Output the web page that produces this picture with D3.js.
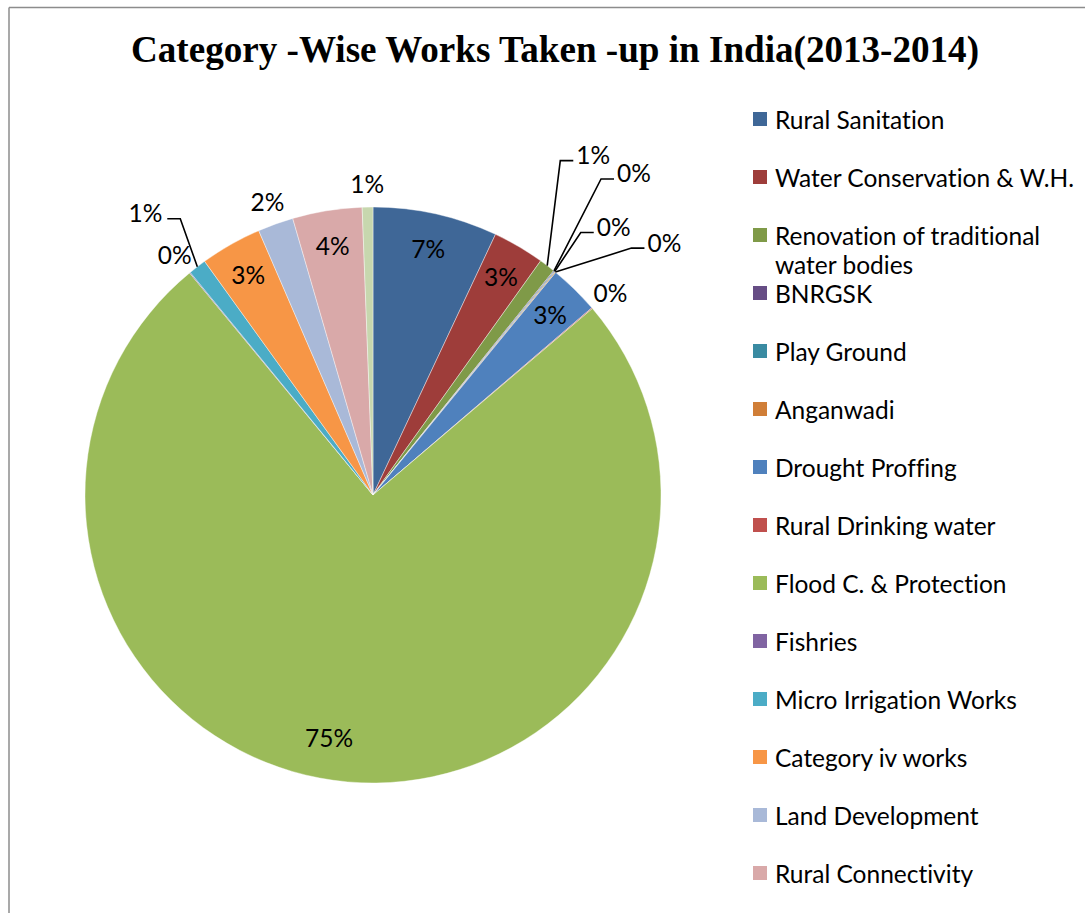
<!DOCTYPE html>
<html>
<head>
<meta charset="utf-8">
<script src="https://cdn.jsdelivr.net/npm/d3@7"></script>
<style>
  html, body { margin: 0; padding: 0; background: #fff; }
  svg { display: block; }
  text { font-variant-ligatures: none; font-feature-settings: "liga" 0, "clig" 0; }
</style>
</head>
<body>
<svg id="chart" width="1085" height="913"></svg>
<script>
// Category-wise works taken up, 2013-2014 (share of total, %)
const categories = [
  "Rural Sanitation",
  "Water Conservation & W.H.",
  "Renovation of traditional water bodies",
  "BNRGSK",
  "Play Ground",
  "Anganwadi",
  "Drought Proffing",
  "Rural Drinking water",
  "Flood C. & Protection",
  "Fishries",
  "Micro Irrigation Works",
  "Category iv works",
  "Land Development",
  "Rural Connectivity",
  "Other Works"
];
const shares = [7.0, 2.9, 0.9, 0.05, 0.05, 0.05, 2.8, 0.05, 75.3, 0.05, 1.0, 3.45, 2.0, 3.9, 0.6];
const sliceColors = [
  "#3F6797", "#9E3D3A", "#7F9A48", "#664D85", "#3A8BA2", "#D07E37",
  "#4F81BD", "#C0504D", "#9BBB59", "#8064A2", "#4BACC6", "#F79646",
  "#A9B9D8", "#D9A9A9", "#C7D7AE"
];
// how each percentage label sits: inside, outside, or outside with a leader line
const labelMode = ["in", "in", "lead", "lead", "lead", "lead", "in", "out", "in",
                   "out", "lead", "in", "out", "in", "out"];
// text offset from the slice's outer edge for leader-line labels
const leaderOffset = {2: [46, -111], 3: [80, -98], 4: [59, -45], 5: [109, -30], 10: [-52, -54]};
const titleText = "Category -Wise Works Taken -up in India(2013-2014)";

const svg = d3.select("#chart");
const W = 1085, H = 913;
const cx = 373, cy = 495, R = 288;
const labelFont = "Lato, 'Noto Sans', sans-serif";
const labelSize = 24.5;

// frame
svg.append("line").attr("x1", 9).attr("y1", 7.5).attr("x2", W).attr("y2", 7.5)
  .attr("stroke", "#8c8c8c").attr("stroke-width", 1.5);
svg.append("line").attr("x1", 9).attr("y1", 7.5).attr("x2", 9).attr("y2", H)
  .attr("stroke", "#8c8c8c").attr("stroke-width", 1.5);

// title
svg.append("text")
  .attr("x", 131).attr("y", 62)
  .attr("textLength", 848).attr("lengthAdjust", "spacingAndGlyphs")
  .style("font-family", "'Liberation Serif', 'Times New Roman', serif")
  .style("font-weight", "bold").style("font-size", "37px")
  .text(titleText);

const data = categories.map((c, i) => ({ name: c, value: shares[i], color: sliceColors[i], mode: labelMode[i], idx: i }));
const total = d3.sum(shares);

const pie = d3.pie().sort(null).value(d => d.value);
const arcs = pie(data);
const arc = d3.arc().innerRadius(0).outerRadius(R);

const g = svg.append("g").attr("transform", `translate(${cx},${cy})`);

g.selectAll("path.slice").data(arcs).join("path")
  .attr("class", "slice")
  .attr("d", arc)
  .attr("fill", d => d.data.color)
  .attr("stroke", "#ffffff").attr("stroke-width", 0.4);

const pct = d => Math.round(d.data.value / total * 100) + "%";
const mid = d => (d.startAngle + d.endAngle) / 2;
const polar = (r, a) => [r * Math.sin(a), -r * Math.cos(a)];

// labels inside slices
const inArc = d3.arc().innerRadius(253).outerRadius(253);
g.selectAll("text.in").data(arcs.filter(d => d.data.mode === "in")).join("text")
  .attr("class", "in")
  .attr("transform", d => {
    let [x, y] = inArc.centroid(d);
    if (d.data.value > 50) { x = -44; y = 242; }
    return `translate(${x},${y})`;
  })
  .attr("text-anchor", "middle").attr("dominant-baseline", "central")
  .style("font-family", labelFont).style("font-size", labelSize + "px")
  .text(pct);

// labels just outside the rim
g.selectAll("text.out").data(arcs.filter(d => d.data.mode === "out")).join("text")
  .attr("class", "out")
  .attr("transform", d => { const [x, y] = polar(312, mid(d)); return `translate(${x},${y})`; })
  .attr("text-anchor", "middle").attr("dominant-baseline", "central")
  .style("font-family", labelFont).style("font-size", labelSize + "px")
  .text(pct);

// labels with leader lines for the thin slices
const leaders = arcs.filter(d => d.data.mode === "lead");
leaders.forEach(d => {
  const [ax, ay] = polar(R, mid(d));
  const off = leaderOffset[d.data.idx];
  const tx = ax + off[0], ty = ay + off[1];
  const t = g.append("text")
    .attr("x", tx).attr("y", ty)
    .attr("text-anchor", "middle").attr("dominant-baseline", "central")
    .style("font-family", labelFont).style("font-size", labelSize + "px")
    .text(pct(d));
  const half = t.node().getComputedTextLength() / 2;
  const right = off[0] > 0;
  const endX = right ? tx - half - 3 : tx + half + 5;
  const elbowX = right ? endX - 13 : endX + 13;
  const ly = ty + 6;
  g.append("polyline")
    .attr("points", `${ax},${ay} ${elbowX},${ly} ${endX},${ly}`)
    .attr("fill", "none").attr("stroke", "#000").attr("stroke-width", 1.6);
});

// legend: rows run down the right side; only rows that fit in the frame are drawn
const rowStep = 58, legendTop = 119;
const legendRows = data.filter((d, i) => legendTop + i * rowStep + 16 < H);
const lg = svg.append("g").attr("transform", `translate(753,${legendTop})`);
const rows = lg.selectAll("g.row").data(legendRows).join("g")
  .attr("class", "row")
  .attr("transform", (d, i) => `translate(0,${i * rowStep})`);
rows.append("rect").attr("x", 0).attr("y", -7).attr("width", 14).attr("height", 14)
  .attr("fill", d => d.color);
rows.each(function (d) {
  const t = d3.select(this).append("text")
    .attr("x", 22).attr("y", 0)
    .attr("dominant-baseline", "central")
    .style("font-family", labelFont).style("font-size", labelSize + "px");
  const words = d.name === "Renovation of traditional water bodies"
    ? ["Renovation of traditional", "water bodies"] : [d.name];
  words.forEach((w, k) => t.append("tspan").attr("x", 22).attr("dy", k === 0 ? 0 : 29).text(w));
});
</script>
</body>
</html>
